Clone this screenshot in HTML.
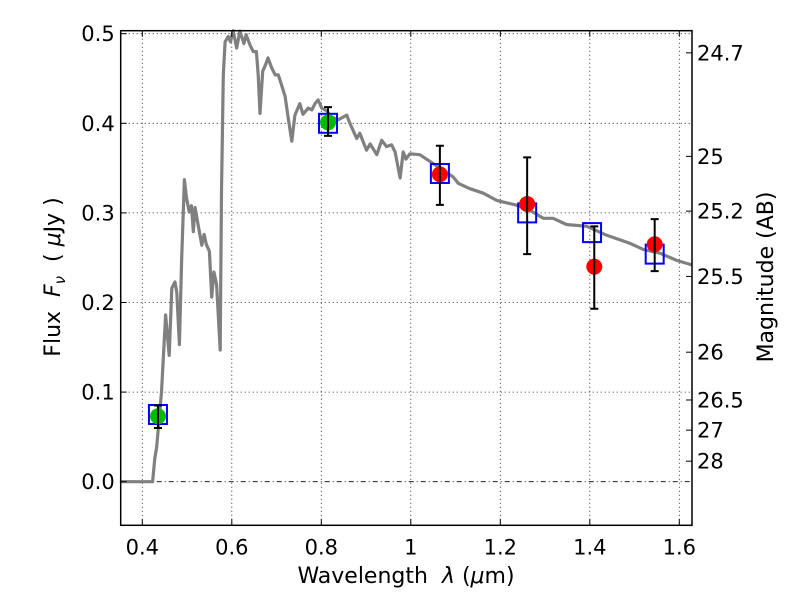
<!DOCTYPE html>
<html><head><meta charset="utf-8"><style>
body{margin:0;background:#fff;}
svg text{font-family:"DejaVu Sans","Liberation Sans",sans-serif;fill:#000;}
</style></head><body>
<svg id="chart" width="800" height="600" xmlns="http://www.w3.org/2000/svg">
<rect width="800" height="600" fill="#fff"/>
<g id="grid"></g>
<g id="curve"></g>
<g id="marks"></g>
<g id="axes"></g>
<text x="406" y="583" font-size="22" text-anchor="middle">Wavelength&#160;&#160;<tspan font-style="italic">λ</tspan> (<tspan font-style="italic">μ</tspan>m)</text>
<text transform="translate(60,277) rotate(-90)" font-size="22" text-anchor="middle">Flux&#160;&#160;<tspan font-style="italic">F</tspan><tspan font-style="italic" font-size="15" dy="5">ν</tspan><tspan dy="-5">&#160;&#160;( </tspan><tspan font-style="italic">μ</tspan>Jy )</text>
<text transform="translate(773,277) rotate(-90)" font-size="22" text-anchor="middle">Magnitude (AB)</text>
</svg>
<script>
const curveX=[0.35,0.423,0.428,0.432,0.443,0.451,0.452,0.460,0.466,0.473,0.477,0.483,0.488,0.494,0.499,0.505,0.510,0.514,0.518,0.525,0.533,0.538,0.543,0.550,0.555,0.560,0.566,0.574,0.577,0.581,0.585,0.592,0.597,0.603,0.611,0.618,0.627,0.632,0.641,0.648,0.655,0.659,0.663,0.669,0.676,0.681,0.689,0.697,0.704,0.711,0.719,0.726,0.734,0.741,0.752,0.759,0.771,0.779,0.786,0.793,0.801,0.812,0.823,0.838,0.857,0.864,0.879,0.886,0.901,0.909,0.924,0.935,0.946,0.957,0.965,0.976,0.983,0.989,0.998,1.020,1.050,1.095,1.106,1.132,1.162,1.192,1.207,1.233,1.266,1.296,1.318,1.348,1.393,1.438,1.490,1.520,1.557,1.594,1.628];
const curveY=[0,0,0.026,0.038,0.100,0.175,0.186,0.141,0.216,0.223,0.211,0.153,0.250,0.337,0.316,0.301,0.308,0.279,0.306,0.286,0.264,0.276,0.265,0.257,0.206,0.234,0.220,0.147,0.324,0.454,0.491,0.497,0.491,0.506,0.484,0.503,0.489,0.499,0.487,0.480,0.480,0.454,0.411,0.458,0.466,0.473,0.462,0.454,0.454,0.443,0.430,0.406,0.380,0.409,0.422,0.410,0.417,0.415,0.422,0.426,0.417,0.414,0.407,0.404,0.409,0.400,0.383,0.389,0.370,0.377,0.365,0.381,0.374,0.376,0.368,0.339,0.368,0.360,0.366,0.365,0.355,0.340,0.333,0.327,0.322,0.314,0.312,0.309,0.303,0.294,0.294,0.287,0.285,0.275,0.266,0.259,0.255,0.247,0.242];
const greenX=[0.435,0.815], greenY=[0.073,0.401], greenLo=[0.060,0.386], greenHi=[0.085,0.418];
const redX=[1.065,1.26,1.41,1.545], redY=[0.343,0.310,0.240,0.265], redLo=[0.309,0.254,0.193,0.235], redHi=[0.375,0.362,0.285,0.293];
const modelX=[0.435,0.815,1.065,1.26,1.405,1.545], modelY=[0.075,0.400,0.344,0.300,0.278,0.254];
const xTicks=[0.4,0.6,0.8,1.0,1.2,1.4,1.6], xTickLabels=["0.4","0.6","0.8","1","1.2","1.4","1.6"];
const yTicks=[0,0.1,0.2,0.3,0.4,0.5], yTickLabels=["0.0","0.1","0.2","0.3","0.4","0.5"];
const magTicks=[24.7,25,25.2,25.5,26,26.5,27,28];

const L=120.7,R=692,T=30.7,B=525.3;
const sx=v=>142.3+(v-0.4)*447.5;
const sy=v=>481.7-v*896;
const NS="http://www.w3.org/2000/svg";
function mk(parent,tag,attrs){const e=document.createElementNS(NS,tag);for(const k in attrs)e.setAttribute(k,attrs[k]);document.getElementById(parent).appendChild(e);return e;}

xTicks.forEach(t=>{const e=mk('grid','line',{x1:sx(t),x2:sx(t),y1:T,y2:B,stroke:'#000','stroke-width':0.8,'stroke-dasharray':'1,3'});

});
yTicks.forEach(t=>{const e=mk('grid','line',{x1:L,x2:R,y1:sy(t),y2:sy(t),stroke:'#000','stroke-width':0.8,'stroke-dasharray':t===0?'5,3,1,3':'1,3'});

});

let d='';curveX.forEach((x,i)=>{d+=(i?'L':'M')+sx(x).toFixed(1)+','+Math.max(T,sy(curveY[i])).toFixed(1);});
const c=mk('curve','path',{d:d,fill:'none',stroke:'#808080','stroke-width':3.2,'stroke-linejoin':'round'});



modelX.forEach((x,i)=>{const e=mk('marks','rect',{x:sx(x)-9,y:sy(modelY[i])-9.5,width:18,height:19,fill:'none',stroke:'#0000ff','stroke-width':2});

});

function pts(xs,ys,lo,hi,color,name){
 xs.forEach((x,i)=>{
  const px=sx(x);
  const el=mk('marks','circle',{cx:px,cy:sy(ys[i]),r:8,fill:color});
  
  
  const g=mk('marks','path',{d:`M${px},${sy(hi[i])}V${sy(lo[i])}M${px-4},${sy(hi[i])}h8M${px-4},${sy(lo[i])}h8`,stroke:'#000','stroke-width':2,fill:'none'});
  
  
 });
}
pts(greenX,greenY,greenLo,greenHi,'#00bb00','optical');
pts(redX,redY,redLo,redHi,'#ff0000','nir');

const f=mk('axes','rect',{x:L,y:T,width:R-L,height:B-T,fill:'none',stroke:'#000','stroke-width':1.5});


xTicks.forEach((t,i)=>{
 mk('axes','path',{d:`M${sx(t)},${B}v-6M${sx(t)},${T}v6`,stroke:'#000','stroke-width':1});
 const tx=mk('axes','text',{x:sx(t),y:B+29,'font-size':21,'text-anchor':'middle'});tx.textContent=xTickLabels[i];
 
 
});
yTicks.forEach((t,i)=>{
 mk('axes','path',{d:`M${L},${sy(t)}h6`,stroke:'#000','stroke-width':1});
 const tx=mk('axes','text',{x:L-6,y:sy(t)+7.5,'font-size':21,'text-anchor':'end'});tx.textContent=yTickLabels[i];
 
 
});
magTicks.forEach(m=>{
 const y=sy(Math.pow(10,(23.9-m)/2.5));
 mk('axes','path',{d:`M${R},${y}h-6`,stroke:'#000','stroke-width':1});
 const tx=mk('axes','text',{x:R+5,y:y+7.5,'font-size':21});tx.textContent=String(m);
 
 
});
</script>
</body></html>
